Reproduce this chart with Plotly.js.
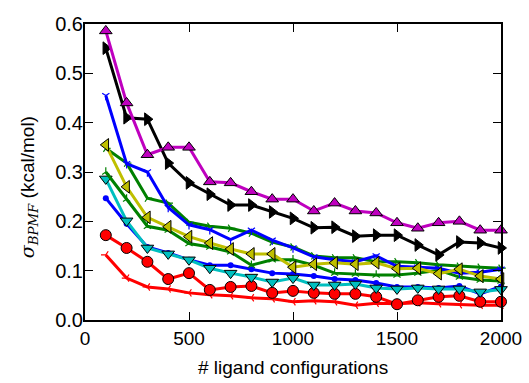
<!DOCTYPE html>
<html>
<head>
<meta charset="utf-8">
<script src="https://cdn.plot.ly/plotly-3.0.1.min.js"></script>
<style>html,body{margin:0;padding:0;background:#fff;}#chart{width:529px;height:383px;}</style>
</head>
<body>
<div id="chart"></div>
<script>
var configs = [100, 200, 300, 400, 500, 600, 700, 800, 900, 1000, 1100, 1200, 1300, 1400, 1500, 1600, 1700, 1800, 1900, 2000];
var magentaTri = [0.586, 0.44, 0.335, 0.35, 0.35, 0.28, 0.278, 0.26, 0.245, 0.245, 0.221, 0.237, 0.221, 0.217, 0.197, 0.186, 0.197, 0.2, 0.182, 0.182];
var blackTri = [0.551, 0.41, 0.407, 0.318, 0.278, 0.255, 0.233, 0.233, 0.219, 0.206, 0.187, 0.188, 0.17, 0.172, 0.172, 0.152, 0.132, 0.158, 0.156, 0.146];
var blueUpper = [0.455, 0.317, 0.3, 0.228, 0.193, 0.183, 0.163, 0.182, 0.162, 0.146, 0.128, 0.122, 0.118, 0.13, 0.109, 0.107, 0.105, 0.095, 0.097, 0.103];
var yellowTri = [0.355, 0.27, 0.208, 0.189, 0.169, 0.156, 0.144, 0.134, 0.134, 0.107, 0.113, 0.116, 0.113, 0.116, 0.104, 0.105, 0.094, 0.103, 0.089, 0.083];
var greenUpper = [0.348, 0.318, 0.247, 0.237, 0.198, 0.19, 0.186, 0.176, 0.158, 0.148, 0.13, 0.126, 0.126, 0.118, 0.118, 0.116, 0.112, 0.109, 0.107, 0.105];
var greenLower = [0.3, 0.245, 0.19, 0.182, 0.155, 0.148, 0.138, 0.111, 0.122, 0.122, 0.111, 0.095, 0.093, 0.091, 0.091, 0.095, 0.101, 0.087, 0.081, 0.079];
var cyanTri = [0.286, 0.201, 0.146, 0.134, 0.122, 0.105, 0.095, 0.087, 0.077, 0.085, 0.071, 0.071, 0.073, 0.065, 0.063, 0.065, 0.063, 0.063, 0.057, 0.062];
var blueLower = [0.247, 0.195, 0.148, 0.136, 0.122, 0.111, 0.111, 0.103, 0.095, 0.093, 0.089, 0.083, 0.081, 0.075, 0.067, 0.067, 0.065, 0.069, 0.053, 0.068];
var redCircle = [0.172, 0.146, 0.118, 0.083, 0.095, 0.061, 0.067, 0.069, 0.055, 0.059, 0.055, 0.053, 0.053, 0.047, 0.032, 0.04, 0.047, 0.049, 0.037, 0.037];
var redLower = [0.132, 0.085, 0.067, 0.063, 0.055, 0.051, 0.049, 0.045, 0.043, 0.037, 0.039, 0.037, 0.03, 0.034, 0.033, 0.035, 0.033, 0.031, 0.03, 0.03];
var xTickVals = [0, 500, 1000, 1500, 2000];
var xTickText = ['0', '500', '1000', '1500', '2000'];
var yTickVals = [0, 0.1, 0.2, 0.3, 0.4, 0.5, 0.6];
var yTickText = ['0.0', '0.1', '0.2', '0.3', '0.4', '0.5', '0.6'];

var LW = 3;
function tr(y, color, symbol, size, edge) {
  var m = {symbol: symbol, size: size, color: color};
  if (edge) { m.line = {color: '#000', width: 1}; }
  else if (symbol.indexOf('open') >= 0) { m.line = {color: color, width: 1.2}; }
  return {x: configs, y: y, type: 'scatter', mode: 'lines+markers',
          line: {color: color, width: LW}, marker: m, cliponaxis: false, showlegend: false, hoverinfo: 'skip'};
}

var data = [
  tr(redLower, '#ff0000', 'y-left-open', 6, false),
  tr(redCircle, '#ff0000', 'circle', 11, true),
  tr(blueLower, '#0000ff', 'circle', 6, false),
  tr(cyanTri, '#00bfbf', 'triangle-down', 11, true),
  tr(greenLower, '#008000', 'y-up-open', 6, false),
  tr(greenUpper, '#008000', 'y-right-open', 6, false),
  tr(blueUpper, '#0000ff', 'y-down-open', 6, false),
  tr(yellowTri, '#bfbf00', 'triangle-left', 11, true),
  tr(blackTri, '#000000', 'triangle-right', 11, true),
  tr(magentaTri, '#bf00bf', 'triangle-up', 11, true)
];

var fnt = {family: 'Liberation Sans, Arial, sans-serif', size: 19, color: '#000'};
var yfnt = {family: 'Liberation Sans, Arial, sans-serif', size: 20, color: '#000'};
var layout = {
  width: 529, height: 383,
  margin: {l: 85, r: 28, t: 24, b: 63, pad: 0},
  paper_bgcolor: '#fff', plot_bgcolor: '#fff',
  font: fnt,
  xaxis: {range: [0, 2000], tickvals: xTickVals, ticktext: xTickText,
          ticks: 'inside', ticklen: 8, tickwidth: 1, tickcolor: '#000', showline: true, linecolor: '#000', linewidth: 2,
          mirror: 'ticks', showgrid: false, zeroline: false, tickfont: fnt, fixedrange: true},
  yaxis: {range: [0, 0.6], tickvals: yTickVals, ticktext: yTickText,
          ticks: 'inside', ticklen: 8, tickwidth: 1, tickcolor: '#000', showline: true, linecolor: '#000', linewidth: 2,
          mirror: 'ticks', showgrid: false, zeroline: false, tickfont: yfnt, ticklabelstandoff: -4, fixedrange: true},
  annotations: [
    {text: '# ligand configurations', xref: 'paper', yref: 'paper', x: 0.5, y: -0.162, xanchor: 'center', yanchor: 'middle',
     showarrow: false, font: fnt},
    {text: '<span style="font-family:DejaVu Serif"><i>σ</i><sub><i>BPMF</i></sub></span> (kcal/mol)', xref: 'paper', yref: 'paper',
     x: -0.136, y: 0.45, xanchor: 'center', yanchor: 'middle', textangle: -90, showarrow: false, font: fnt}
  ]
};
Plotly.newPlot('chart', data, layout, {staticPlot: true, displayModeBar: false});
</script>
</body>
</html>
